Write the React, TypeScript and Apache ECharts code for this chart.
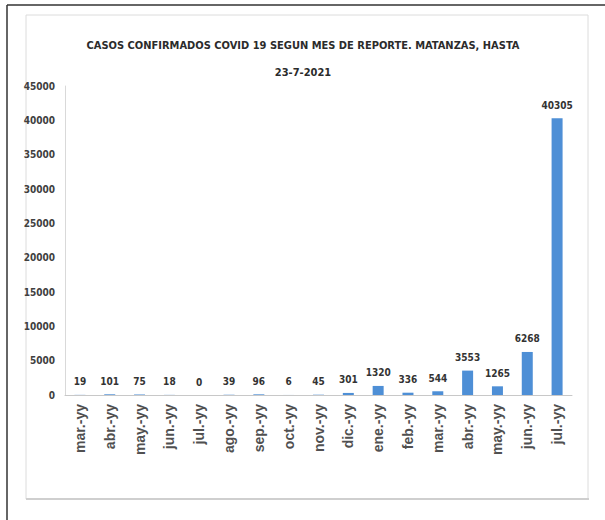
import React, { useEffect, useRef } from "react";
import * as echarts from "echarts";

const categories = [
  "mar.-yy", "abr.-yy", "may.-yy", "jun.-yy", "jul.-yy", "ago.-yy", "sep.-yy", "oct.-yy",
  "nov.-yy", "dic.-yy", "ene.-yy", "feb.-yy", "mar.-yy", "abr.-yy", "may.-yy", "jun.-yy", "jul.-yy",
];
const casos = [19, 101, 75, 18, 0, 39, 96, 6, 45, 301, 1320, 336, 544, 3553, 1265, 6268, 40305];
const yMin = 0;
const yMax = 45000;
const yStep = 5000;
const titleLine1 = "CASOS CONFIRMADOS COVID 19 SEGUN MES DE REPORTE. MATANZAS, HASTA";
const titleLine2 = "23-7-2021";

const FONT = "'DejaVu Sans Condensed', 'Liberation Sans Narrow', sans-serif";
const XFONT = "'Liberation Sans', Arial, sans-serif";

export default function App() {
  const ref = useRef<HTMLDivElement>(null);
  useEffect(() => {
    if (!ref.current) return;
    const chart = echarts.init(ref.current, null, { renderer: "svg" });
    chart.setOption({
      animation: false,
      backgroundColor: "#ffffff",
      graphic: [
        {
          type: "rect",
          shape: { x: 26, y: 15, width: 562, height: 484 },
          style: { fill: "#ffffff", stroke: "#dcdcdc", lineWidth: 1 },
          z: -10,
        },
        {
          type: "line",
          shape: { x1: 26, y1: 499, x2: 589, y2: 499 },
          style: { stroke: "#cfcfcf", lineWidth: 2 },
          z: -9,
        },
        {
          type: "line",
          shape: { x1: 7, y1: 5, x2: 605, y2: 5 },
          style: { stroke: "#333333", lineWidth: 1.5 },
        },
        {
          type: "line",
          shape: { x1: 7, y1: 5, x2: 7, y2: 520 },
          style: { stroke: "#333333", lineWidth: 1.5 },
        },
      ],
      title: {
        text: titleLine1 + "\n" + titleLine2,
        left: 298,
        top: 27,
        textAlign: "center",
        textStyle: {
          fontFamily: FONT,
          fontSize: 11,
          fontWeight: "bold",
          color: "#2b2b2b",
          lineHeight: 27,
        },
      },
      grid: { left: 65, right: 33, top: 86, bottom: 125, containLabel: false },
      xAxis: {
        type: "category",
        data: categories,
        axisLine: { lineStyle: { color: "#c8c8c8", width: 1 } },
        axisTick: { show: false },
        axisLabel: {
          rotate: 90,
          interval: 0,
          fontFamily: XFONT,
          fontSize: 14,
          fontWeight: "bold",
          color: "#505050",
          margin: 9,
        },
      },
      yAxis: {
        type: "value",
        min: yMin,
        max: yMax,
        interval: yStep,
        axisLine: { show: true, lineStyle: { color: "#d9d9d9" } },
        axisTick: { show: false },
        splitLine: { show: false },
        axisLabel: {
          fontFamily: FONT,
          fontSize: 10,
          fontWeight: "bold",
          color: "#404040",
          margin: 10,
          formatter: (v: number) => String(v),
        },
      },
      series: [
        {
          type: "bar",
          data: casos,
          barWidth: 11,
          itemStyle: { color: "#4e8fd6" },
          label: {
            show: true,
            position: "top",
            distance: 8,
            fontFamily: FONT,
            fontSize: 10,
            fontWeight: "bold",
            color: "#333333",
          },
        },
      ],
    });
    return () => chart.dispose();
  }, []);
  return (
    <div
      ref={ref}
      style={{ position: "fixed", left: 0, top: 0, width: 605, height: 520 }}
    />
  );
}
